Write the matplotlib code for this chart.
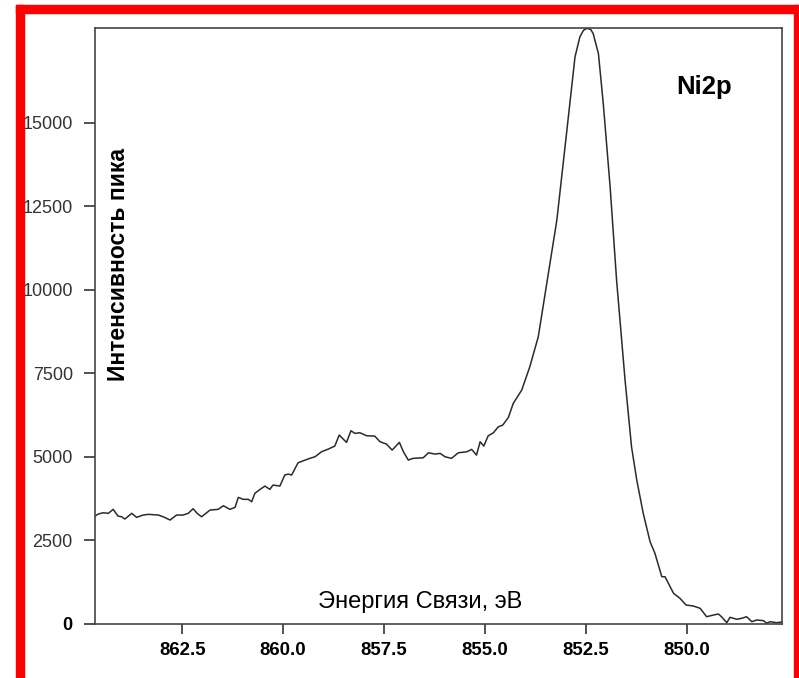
import matplotlib
matplotlib.use('Agg')
import matplotlib.pyplot as plt
from matplotlib.patches import Rectangle

plt.rcParams['font.family'] = ['Liberation Sans', 'DejaVu Sans']

# binding energy, eV
energy = [
    864.66, 864.58, 864.46, 864.33, 864.21, 864.09, 864.00, 863.92, 863.75, 863.63,
    863.47, 863.34, 863.09, 862.97, 862.80, 862.64, 862.48, 862.35, 862.23, 862.13,
    862.02, 861.81, 861.61, 861.48, 861.32, 861.19, 861.11, 860.99, 860.86, 860.78,
    860.70, 860.57, 860.45, 860.33, 860.25, 860.08, 859.96, 859.87, 859.79, 859.63,
    859.50, 859.34, 859.21, 859.05, 858.88, 858.72, 858.61, 858.43, 858.32, 858.22,
    858.10, 857.93, 857.73, 857.60, 857.44, 857.30, 857.12, 857.02, 856.90, 856.78,
    856.53, 856.40, 856.24, 856.11, 855.99, 855.83, 855.66, 855.45, 855.33, 855.21,
    855.12, 855.03, 854.92, 854.79, 854.67, 854.56, 854.42, 854.30, 854.09, 853.89,
    853.68, 853.43, 853.22, 852.98, 852.77, 852.65, 852.56, 852.47, 852.38, 852.32,
    852.19, 852.07, 851.90, 851.74, 851.53, 851.37, 851.24, 851.08, 850.91, 850.79,
    850.62, 850.54, 850.33, 850.17, 850.02, 849.84, 849.67, 849.51, 849.34, 849.22,
    849.14, 849.01, 848.93, 848.76, 848.64, 848.52, 848.39, 848.27, 848.10, 848.02,
    847.94, 847.77, 847.65,
]

# peak intensity
intensity = [
    3231, 3291, 3330, 3312, 3432, 3231, 3210, 3142, 3312, 3192,
    3261, 3282, 3261, 3210, 3112, 3261, 3261, 3312, 3450, 3312,
    3210, 3411, 3432, 3540, 3432, 3492, 3791, 3731, 3731, 3659,
    3911, 4030, 4129, 4030, 4159, 4129, 4458, 4488, 4458, 4826,
    4886, 4958, 5006, 5155, 5236, 5326, 5655, 5436, 5784, 5705,
    5725, 5634, 5625, 5455, 5386, 5206, 5436, 5155, 4907, 4958,
    4976, 5125, 5086, 5107, 5006, 4958, 5125, 5155, 5227, 5056,
    5455, 5326, 5634, 5725, 5903, 5954, 6184, 6603, 7001, 7698,
    8596, 10493, 12088, 14682, 16974, 17572, 17772, 17830, 17793, 17674,
    17075, 15579, 13084, 10292, 7300, 5305, 4308, 3312, 2462, 2115,
    1415, 1415, 919, 769, 568, 539, 470, 218, 269, 299,
    218, 39, 200, 141, 171, 218, 69, 120, 99, 21,
    69, 39, 60,
]

x_ticks = [862.5, 860.0, 857.5, 855.0, 852.5, 850.0]
y_ticks = [0, 2500, 5000, 7500, 10000, 12500, 15000]

W, H = 799, 678
fig = plt.figure(figsize=(W / 100, H / 100), dpi=100)

# red frame around the picture
red = '#ff0000'
fig.patches.append(Rectangle((16 / W, 0), 8 / W, (H - 5) / H, transform=fig.transFigure,
                             color=red, zorder=0))
fig.patches.append(Rectangle((16 / W, (H - 13) / H), (W - 16) / W, 8 / H,
                             transform=fig.transFigure, color=red, zorder=0))
fig.patches.append(Rectangle((794 / W, 0), 5 / W, (H - 5) / H, transform=fig.transFigure,
                             color=red, zorder=0))

ax = fig.add_axes([95 / W, 54 / H, 686.7 / W, 596 / H])
ax.plot(energy, intensity, color='#2b2b2b', lw=1.1)

ax.set_xlim(864.66, 847.65)
ax.set_ylim(0, 17840)

ax.set_xticks(x_ticks)
ax.set_xticklabels(['%.1f' % v for v in x_ticks], fontsize=13.4, fontweight='bold')
ax.set_yticks(y_ticks)
ax.set_yticklabels([str(v) for v in y_ticks], fontsize=13, color='#333333')
ax.get_yticklabels()[0].set_fontweight('bold')
ax.get_yticklabels()[0].set_color('black')

ax.tick_params(axis='x', direction='out', length=7, width=1.2, pad=6, color='#333333')
ax.tick_params(axis='y', direction='out', length=8, width=1.2, pad=8, color='#333333')
for s in ax.spines.values():
    s.set_color('#444444')
    s.set_linewidth(1.2)

ax.text(0.0335, 0.6035, 'Интенсивность пика', transform=ax.transAxes, rotation=90,
        ha='center', va='center', fontsize=16.5, fontweight='bold')
ax.text(0.4733, 0.0374, 'Энергия Связи, эВ', transform=ax.transAxes,
        ha='center', va='center', fontsize=17)
ax.text(0.887, 0.889, 'Ni2p', transform=ax.transAxes,
        ha='center', va='baseline', fontsize=18.5, fontweight='bold')

fig.savefig('out.png', dpi=100)
